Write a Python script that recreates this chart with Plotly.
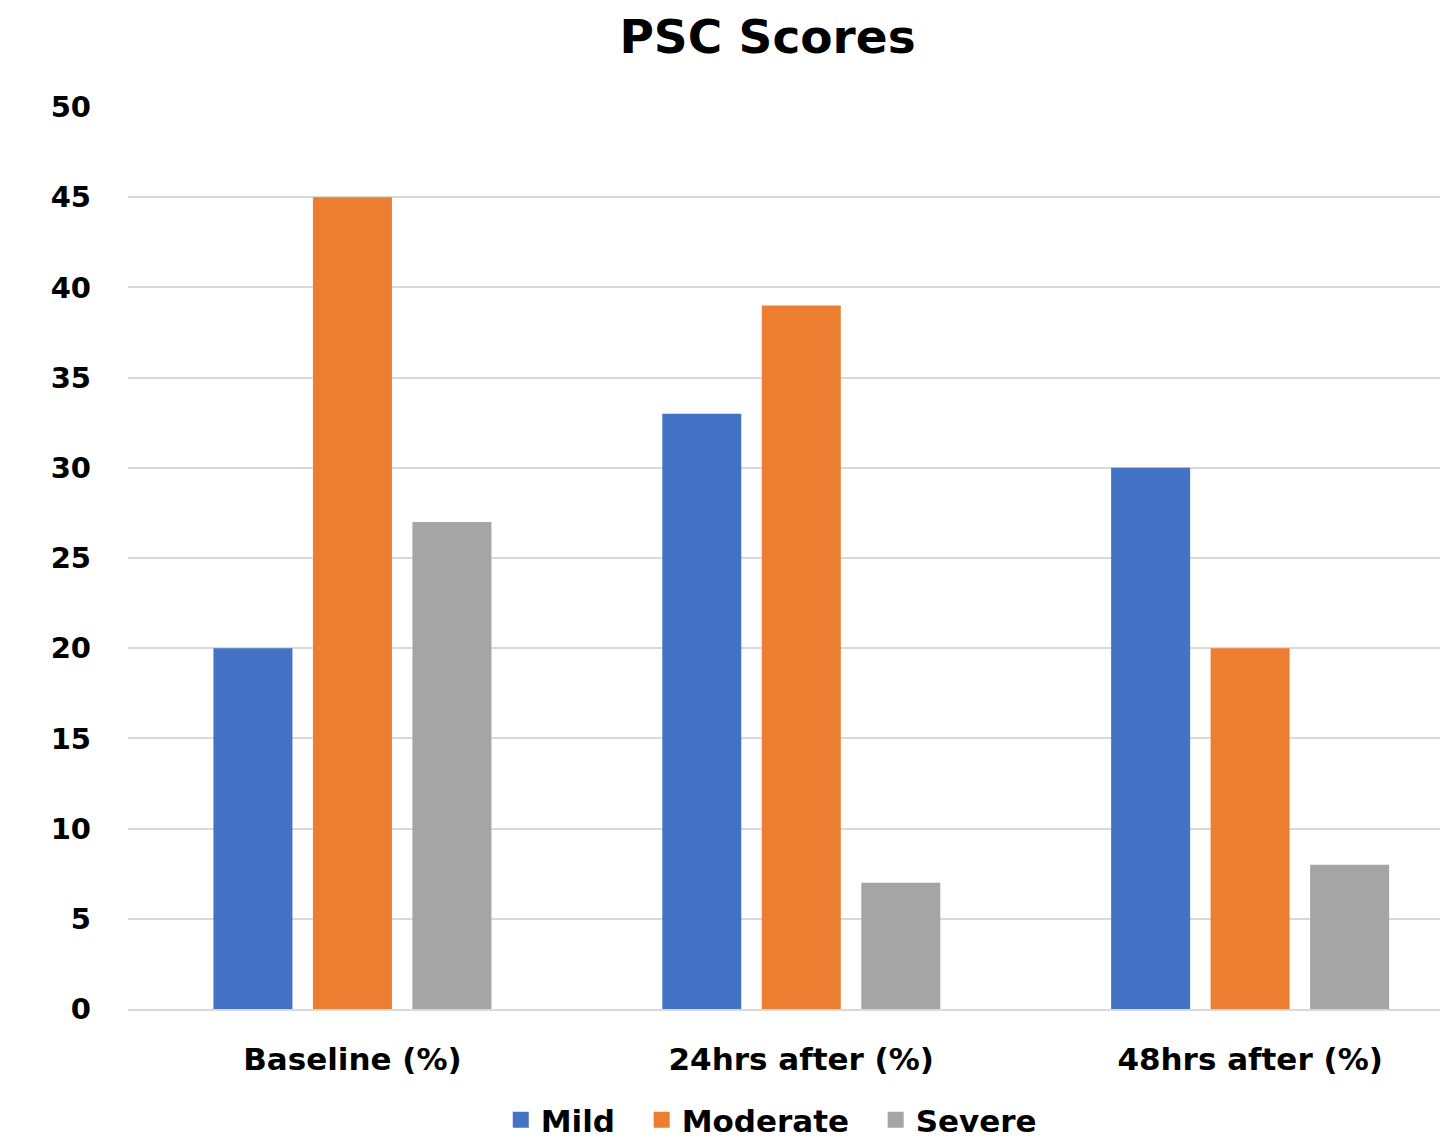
import plotly.graph_objects as go

categories = ["Baseline (%)", "24hrs after (%)", "48hrs after (%)"]
mild = [20, 33, 30]
moderate = [45, 39, 20]
severe = [27, 7, 8]
series_names = ["Mild", "Moderate", "Severe"]
colors = ["#4472C4", "#ED7D31", "#A5A5A5"]
yticks = [0, 5, 10, 15, 20, 25, 30, 35, 40, 45, 50]

FONT = "DejaVu Sans"
PAD = "\u00a0\u00a0"
fig = go.Figure()
for name, vals, col in zip(series_names, [mild, moderate, severe], colors):
    fig.add_trace(go.Bar(name=name, x=categories, y=vals, marker_color=col,
                         marker_line_width=0, showlegend=False))
# legend entries with larger square swatches
for i, (name, col) in enumerate(zip(series_names, colors)):
    label = name + (PAD if i < len(series_names) - 1 else "")
    fig.add_trace(go.Scatter(name=label, x=[None], y=[None], mode="markers",
                             marker=dict(symbol="square", size=19, color=col),
                             showlegend=True))

fig.update_layout(
    width=1440, height=1138,
    paper_bgcolor="white", plot_bgcolor="white",
    margin=dict(l=128, r=0, t=107, b=129, autoexpand=False),
    barmode="group", bargap=0.335, bargroupgap=0.206,
    font=dict(family=FONT, size=30, color="black", weight="bold"),
    title=dict(text="PSC Scores", x=0.533, xanchor="center", y=1 - 37 / 1138,
               yanchor="middle",
               font=dict(family=FONT, size=47, color="black", weight="bold")),
    xaxis=dict(range=[-0.5, 2.423], showgrid=False, showline=True, linecolor="#d9d9d9",
               linewidth=2, ticks="", ticklabelstandoff=22,
               tickfont=dict(family=FONT, size=31, color="black", weight="bold")),
    yaxis=dict(range=[0, 50], tickvals=yticks, showgrid=True, gridcolor="#d9d9d9",
               gridwidth=2, zeroline=False, showline=False, ticks="",
               ticklabelstandoff=36,
               tickfont=dict(family=FONT, size=29, color="black", weight="bold")),
    legend=dict(orientation="h", x=0.4903, xanchor="center", yref="container",
                y=(1138 - 1120) / 1138, yanchor="middle",
                font=dict(family=FONT, size=31, color="black", weight="bold"),
                itemwidth=30, traceorder="normal"),
)
fig.write_html("out.html")
